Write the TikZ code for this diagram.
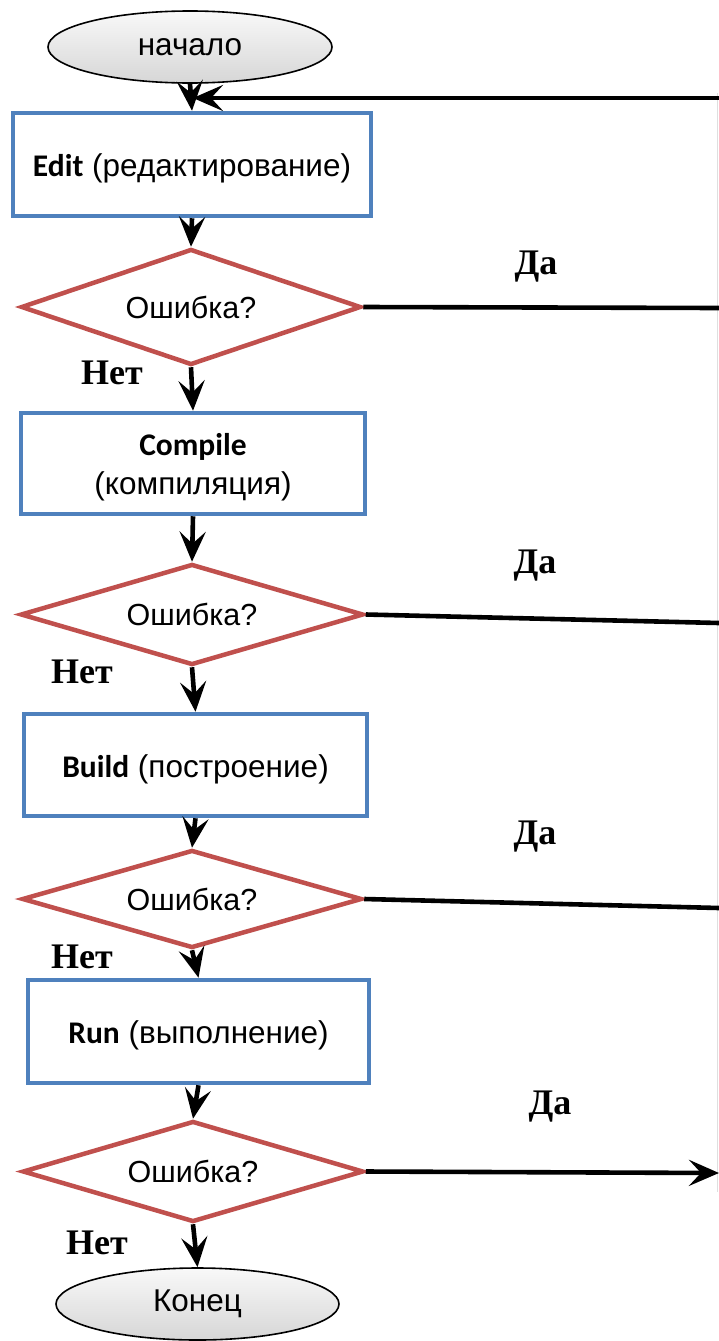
\documentclass[tikz,border=0pt]{standalone}
\usepackage{fontspec}
\setmainfont{Liberation Sans}
\newfontfamily\calfont{Carlito}
\newfontfamily\serfont{Liberation Serif}
\usetikzlibrary{shapes.geometric,arrows.meta}
\definecolor{boxblue}{HTML}{4F81BD}
\definecolor{decred}{HTML}{C0504D}
\begin{document}
\begin{tikzpicture}[x=1pt,y=-1pt,
  every node/.style={font=\fontsize{31.5}{39}\selectfont},
  terminal/.style={ellipse, draw=black, line width=1.6pt, top color=gray!5, bottom color=gray!32, minimum width=284, minimum height=72, inner sep=0},
  procbox/.style={rectangle, draw=boxblue, line width=4.5pt, fill=white, inner sep=0},
  boxtext/.style={align=center, yshift=-4pt},
  decision/.style={diamond, draw=decred, line width=4.5pt, fill=white, inner sep=0},
  dtext/.style={font=\fontsize{30.5}{36}\selectfont},
  flow/.style={line width=4.6pt, -{Stealth[length=30pt,width=26pt,inset=12pt]}},
  plain/.style={line width=4.6pt},
  lbl/.style={font=\serfont\bfseries\fontsize{36}{40}\selectfont},
  edgeline/.style={gray!25, line width=1.5pt}
]
\useasboundingbox (0,0) rectangle (719,1341);
\fill[white] (0,0) rectangle (719,1341);

% right-hand return line (mostly cut off by the picture edge)
\coordinate (vt) at (717.5,93);
\coordinate (vb) at (717.5,1192);
\draw[edgeline] (vt) -- (vb);

\node[terminal] (start) at (190,47) {\raisebox{-2pt}{начало}};
\node[procbox, minimum width=358, minimum height=103,
  label={[boxtext]center:{{\calfont\bfseries Edit} (редактирование)}}] (edit) at (192,164.5) {};
\node[decision, minimum width=340, minimum height=116, label={[dtext]center:Ошибка?}] (d1) at (191,307) {};
\node[procbox, minimum width=344, minimum height=101,
  label={[boxtext]center:{{\calfont\bfseries Compile}\\(компиляция)}}] (compile) at (193,463.5) {};
\node[decision, minimum width=343, minimum height=101, label={[dtext]center:Ошибка?}] (d2) at (192,614.5) {};
\node[procbox, minimum width=343, minimum height=102,
  label={[boxtext]center:{{\calfont\bfseries Build} (построение)}}] (build) at (195.5,765) {};
\node[decision, minimum width=340, minimum height=98, label={[dtext]center:Ошибка?}] (d3) at (192,899) {};
\node[procbox, minimum width=341, minimum height=103,
  label={[boxtext]center:{{\calfont\bfseries Run} (выполнение)}}] (run) at (198.5,1031.5) {};
\node[decision, minimum width=341, minimum height=101, label={[dtext]center:Ошибка?}] (d4) at (193,1171.5) {};
\node[terminal, minimum width=283] (finish) at (197.5,1304) {\raisebox{-3pt}{Конец}};

\coordinate (r0) at (719,98);
\coordinate (j0) at (193,98);
\coordinate (r1) at (719,308);
\coordinate (r2) at (719,623);
\coordinate (r3) at (719,908);
\coordinate (r4) at (719,1173);

\draw[flow] (start.south) -- (edit.north);
\draw[flow] (r0) -- (j0);
\draw[flow] (edit.south) -- (d1.north);
\draw[plain] (d1.east) -- (r1);
\draw[flow] (d1.south) -- (compile.north);
\draw[flow] (compile.south) -- (d2.north);
\draw[plain] (d2.east) -- (r2);
\draw[flow] (d2.south) -- (build.north);
\draw[flow] (build.south) -- (d3.north);
\draw[plain] (d3.east) -- (r3);
\draw[flow] (d3.south) -- (run.north);
\draw[flow] (run.south) -- (d4.north);
\draw[flow] (d4.east) -- (r4);
\draw[flow] (d4.south) -- (finish.north);

\node[lbl] (y1) at (536,267) {Да};
\node[lbl] (y2) at (535,566) {Да};
\node[lbl] (y3) at (535,837) {Да};
\node[lbl] (y4) at (550,1107) {Да};
\node[lbl] (n1) at (112,373) {Нет};
\node[lbl] (n2) at (82,672) {Нет};
\node[lbl] (n3) at (82,957) {Нет};
\node[lbl] (n4) at (97,1243) {Нет};
\end{tikzpicture}
\end{document}
